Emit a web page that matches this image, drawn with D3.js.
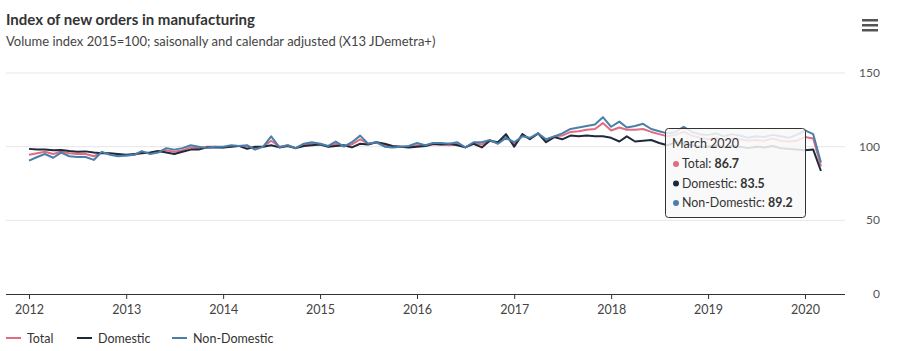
<!DOCTYPE html>
<html lang="en">
<head>
    <meta charset="UTF-8">
    <script type="text/javascript" src="https://cdn.jsdelivr.net/npm/d3@7"></script>
    <title>Index of new orders in manufacturing</title>
    <style>
        body { margin: 0; background: #fff; }
        text { font-family: Lato, "Noto Sans", sans-serif; }
    </style>
</head>
<body>
</body>
<script>
    // monthly, Jan 2012 - Mar 2020
    let months = d3.timeMonth.range(new Date(2012, 0, 1), new Date(2020, 3, 1));
    let yearTicks = [2012, 2013, 2014, 2015, 2016, 2017, 2018, 2019, 2020];
    let yTicks = [0, 50, 100, 150];

    let total = [
        94.5, 95.5, 96.5, 95, 96.5, 95.5, 95, 95, 93.5, 96, 95, 94.5,
        94, 94.5, 96, 95.5, 96.5, 97.5, 96.5, 97.5, 99.5, 99, 100, 100,
        99.5, 100.5, 100.5, 100, 99, 100, 104, 100, 101, 99, 101.5, 102,
        102, 100, 102, 100.5, 101.5, 105, 102, 103, 101, 100, 100, 100,
        101, 100.5, 101.5, 101.5, 101, 102, 99.5, 102.5, 101.5, 104, 102.5, 107,
        101.5, 107.5, 105.5, 109, 104, 107, 107.5, 110, 110.5, 111.5, 112, 116,
        111, 113, 111.5, 111.5, 112, 110, 108.5, 107, 108, 110, 107.5, 106,
        105, 106, 104.5, 105.5, 105, 104, 104.5, 104, 105.5, 104, 103.5, 104,
        106.5, 105.5, 86.7
    ];
    let domestic = [
        98.5, 98, 98, 97.5, 97.8, 97, 96.5, 96.8, 96, 95.5, 95.5, 95,
        94.5, 95, 95.5, 96, 97, 96, 95, 96.5, 98, 98, 99.5, 99.5,
        99.5, 100, 100.5, 98.5, 100, 100, 101, 99.5, 100.5, 99, 100.5, 101,
        101.5, 100, 100.5, 101, 99.5, 102, 101.5, 103, 102, 100.5, 100, 99.5,
        100, 100.5, 102, 101.5, 102, 101, 99.5, 102, 99.5, 104, 103, 108.5,
        100, 108.5, 105, 109, 103, 106.5, 105, 107.5, 107, 107.5, 107, 107,
        106, 103.5, 107, 103.5, 104, 104.5, 102.5, 101, 103, 102, 101, 100,
        100, 101, 99.5, 100.5, 100, 99, 100, 99.5, 100.5, 99, 98.5, 98,
        97.5, 98, 83.5
    ];
    let nonDomestic = [
        90.5, 93, 95, 92.5, 96, 93.5, 93, 93, 91, 96.5, 94.5, 93.5,
        94, 94.5, 97, 95, 96, 99, 98, 99, 101, 100, 99, 100,
        100, 101, 100.5, 101, 98, 100, 107, 99.5, 101, 99, 102, 103,
        102, 100.5, 103.5, 100, 103, 107.5, 102, 103, 100, 99.5, 100, 100.5,
        102.5, 101, 102.5, 102.5, 102, 103, 99.5, 103, 103, 104.5, 102, 106,
        103, 107, 106, 109, 105, 107, 109, 112, 113, 114, 115, 120,
        113.5, 117, 113, 114, 115.5, 112, 110.5, 109, 110, 113.5, 110, 108.5,
        108, 109, 107, 108.5, 107.5, 106, 107, 106.5, 108, 107, 106, 108,
        111, 108.5, 89.2
    ];

    let series = [
        {name: "Total", values: total, color: "#e06c82"},
        {name: "Domestic", values: domestic, color: "#1d2a3b"},
        {name: "Non-Domestic", values: nonDomestic, color: "#4a7fab"}
    ];

    let svg = d3.select("body")
        .append("svg")
        .attr("width", 900)
        .attr("height", 351)

    // 比例尺
    let xScale = d3.scaleTime()
        .domain([new Date(2012, 0, 1), new Date(2020, 0, 1)])
        .range([29, 805]);

    let yScale = d3.scaleLinear()
        .domain([0, 150])
        .range([294, 73]);

    // title
    svg.append("text")
        .attr("x", 6).attr("y", 25)
        .attr("font-size", 15).attr("font-weight", "bold")
        .attr("fill", "#333")
        .text("Index of new orders in manufacturing");
    svg.append("text")
        .attr("x", 6).attr("y", 46)
        .attr("font-size", 13).attr("fill", "#444")
        .text("Volume index 2015=100; saisonally and calendar adjusted (X13 JDemetra+)");

    // menu icon
    svg.selectAll(".menu")
        .data([0, 1, 2])
        .enter()
        .append("rect")
        .attr("class", "menu")
        .attr("x", 862).attr("y", d => 19 + d * 5)
        .attr("width", 16).attr("height", 2.5)
        .attr("fill", "#555");

    // grid lines + y labels (right)
    svg.selectAll(".grid")
        .data(yTicks.filter(d => d > 0))
        .enter()
        .append("line")
        .attr("class", "grid")
        .attr("x1", 6).attr("x2", 845)
        .attr("y1", d => yScale(d)).attr("y2", d => yScale(d))
        .attr("stroke", "#e6e6e6");

    svg.selectAll(".ylab")
        .data(yTicks)
        .enter()
        .append("text")
        .attr("class", "ylab")
        .attr("x", 880).attr("y", d => yScale(d) + 4)
        .attr("text-anchor", "end")
        .attr("font-size", 12).attr("fill", "#555")
        .text(d => d);

    // x axis
    let xAxis = d3.axisBottom(xScale)
        .tickValues(yearTicks.map(y => new Date(y, 0, 1)))
        .tickFormat(d3.timeFormat("%Y"))
        .tickSize(5)
        .tickPadding(6);

    let gx = svg.append("g")
        .attr("transform", "translate(0, 294)")
        .call(xAxis);
    gx.select(".domain").remove();
    gx.selectAll("line").attr("stroke", "#333");
    gx.selectAll("text")
        .attr("font-family", "Lato, 'Noto Sans', sans-serif")
        .attr("font-size", 12.5).attr("fill", "#444");
    svg.append("line")
        .attr("x1", 6).attr("x2", 845)
        .attr("y1", 294.5).attr("y2", 294.5)
        .attr("stroke", "#333");

    // lines
    let line = d3.line()
        .x((d, i) => xScale(months[i]))
        .y(d => yScale(d));

    svg.selectAll(".series")
        .data(series)
        .enter()
        .append("path")
        .attr("class", "series")
        .attr("d", d => line(d.values))
        .attr("fill", "none")
        .attr("stroke", d => d.color)
        .attr("stroke-width", 2)
        .attr("stroke-linejoin", "round");

    // legend
    let legendX = [6, 77, 172];
    let lg = svg.selectAll(".legend")
        .data(series)
        .enter()
        .append("g")
        .attr("class", "legend")
        .attr("transform", (d, i) => `translate(${legendX[i]}, 338)`);
    lg.append("line")
        .attr("x1", 0).attr("x2", 15)
        .attr("y1", 0).attr("y2", 0)
        .attr("stroke", d => d.color).attr("stroke-width", 2);
    lg.append("text")
        .attr("x", 21).attr("y", 4.5)
        .attr("font-size", 12.5).attr("fill", "#333")
        .text(d => d.name);

    // tooltip for the last point
    let last = months.length - 1;
    let tip = svg.append("g").attr("transform", "translate(665, 128)");
    tip.append("rect")
        .attr("x", 0.5).attr("y", 0.5)
        .attr("width", 140).attr("height", 89)
        .attr("rx", 3)
        .attr("fill", "rgba(248,248,248,0.86)")
        .attr("stroke", "#333").attr("stroke-width", 1);
    tip.append("text")
        .attr("x", 7).attr("y", 20)
        .attr("font-size", 12.5).attr("fill", "#333")
        .text(d3.timeFormat("%B %Y")(months[last]));
    let rows = tip.selectAll(".row")
        .data(series)
        .enter()
        .append("g")
        .attr("class", "row")
        .attr("transform", (d, i) => `translate(0, ${40 + i * 19.5})`);
    rows.append("circle")
        .attr("cx", 11).attr("cy", -4).attr("r", 3)
        .attr("fill", d => d.color);
    let rt = rows.append("text")
        .attr("x", 17).attr("y", 0)
        .attr("font-size", 12.4).attr("fill", "#333");
    rt.append("tspan").text(d => d.name + ": ");
    rt.append("tspan").attr("font-weight", "bold").text(d => d.values[last].toFixed(1));
</script>
</html>
